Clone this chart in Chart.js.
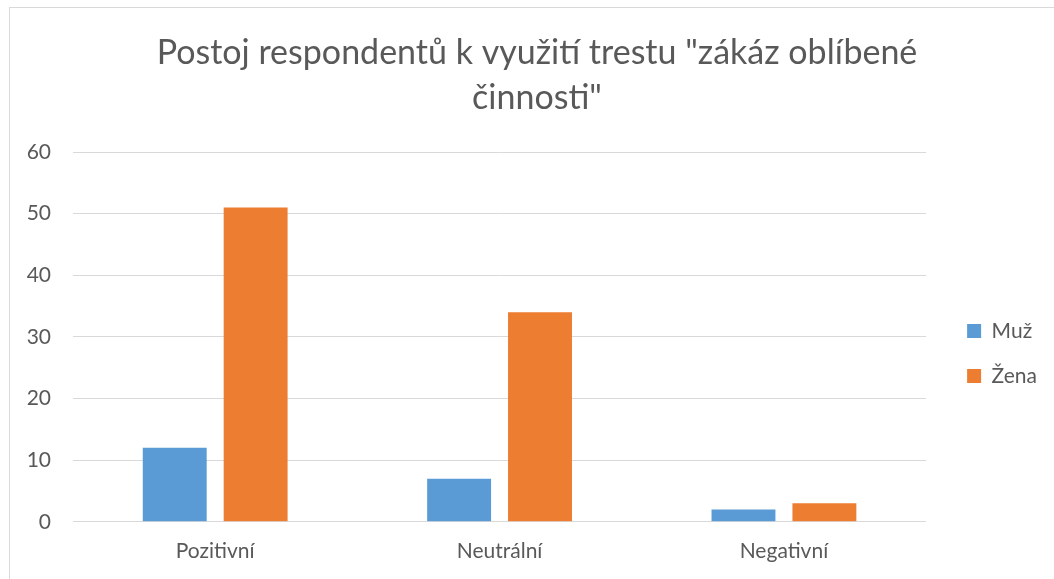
<!DOCTYPE html>
<html lang="cs">
<head>
    <meta charset="utf8" />
    <script src="https://cdnjs.cloudflare.com/ajax/libs/Chart.js/4.4.1/chart.umd.min.js"></script>
    <title>Postoj respondentů</title>
    <style>
        html, body {
            margin: 0;
            padding: 0;
            width: 1054px;
            height: 579px;
            overflow: hidden;
            background: #fff;
        }

        #frame {
            position: absolute;
            left: 9px;
            top: 7px;
            border-top: 1px solid #d9d9d9;
            border-left: 1px solid #d9d9d9;
        }

        canvas {
            display: block;
        }
    </style>
</head>

<body>
    <div id="frame">
        <canvas id="chart" width="1050" height="600"></canvas>
    </div>

    <script>
        // Data
        const categories = ['Pozitivní', 'Neutrální', 'Negativní'];
        const muz = [12, 7, 2];
        const zena = [51, 34, 3];
        const yTicks = [0, 10, 20, 30, 40, 50, 60];
        const titleLines = ['Postoj respondentů k využití trestu "zákáz oblíbené', 'činnosti"'];

        const textColor = '#595959';
        const gridColor = '#d9d9d9';
        const font = 'Lato, "Open Sans", sans-serif';

        new Chart(document.getElementById('chart').getContext('2d'), {
            type: 'bar',
            data: {
                labels: categories,
                datasets: [
                    { label: 'Muž', data: muz, backgroundColor: '#5b9bd5' },
                    { label: 'Žena', data: zena, backgroundColor: '#ed7d31' }
                ]
            },
            options: {
                responsive: false,
                animation: false,
                categoryPercentage: 0.569,
                barPercentage: 0.79,
                layout: {
                    padding: { left: 17, right: 13, top: 0, bottom: 27 }
                },
                scales: {
                    x: {
                        grid: { display: false, drawTicks: false },
                        border: { display: false },
                        ticks: {
                            color: textColor,
                            font: { family: font, size: 21 },
                            padding: 17
                        }
                    },
                    y: {
                        min: yTicks[0],
                        max: yTicks[yTicks.length - 1],
                        grid: { color: gridColor, lineWidth: 1, drawTicks: false },
                        border: { display: false },
                        ticks: {
                            stepSize: 10,
                            color: textColor,
                            font: { family: font, size: 21 },
                            padding: 22
                        },
                        afterFit: (scale) => { scale.width = 46; }
                    },
                    // empty axis, only keeps a gap between the plot and the legend
                    gap: {
                        type: 'linear',
                        position: 'right',
                        grid: { display: false, drawTicks: false },
                        border: { display: false },
                        ticks: { display: false },
                        afterFit: (scale) => { scale.width = 17; }
                    }
                },
                plugins: {
                    title: {
                        display: true,
                        text: titleLines,
                        color: textColor,
                        font: { family: font, size: 34, weight: 400, lineHeight: 45 / 34 },
                        padding: { top: 22.5, bottom: 31.5 }
                    },
                    legend: {
                        position: 'right',
                        fullSize: false,
                        // empty title just pushes the items down a little
                        title: {
                            display: true,
                            text: '',
                            padding: { top: 33, bottom: 0 },
                            font: { lineHeight: '0px' }
                        },
                        labels: {
                            color: textColor,
                            font: { family: font, size: 21 },
                            boxWidth: 14,
                            boxHeight: 14,
                            padding: 24
                        }
                    },
                    tooltip: { enabled: false }
                }
            }
        });
    </script>
</body>

</html>
